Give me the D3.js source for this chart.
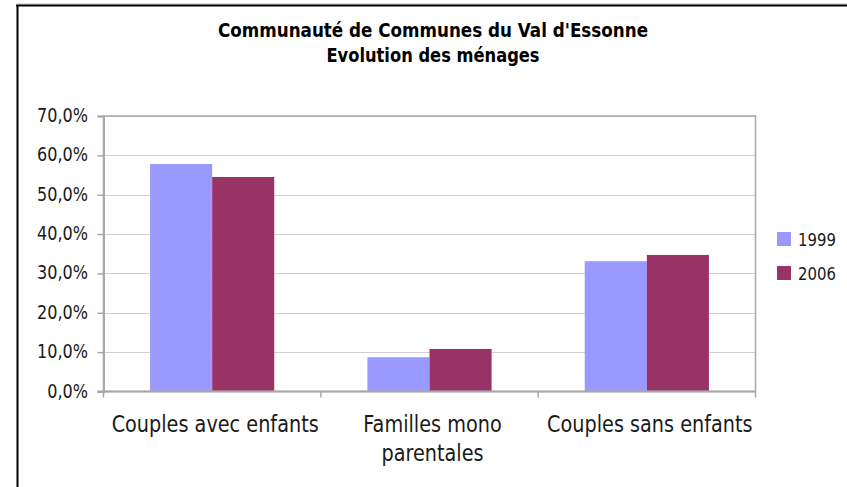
<!DOCTYPE html>
<html><head><meta charset="utf-8">
<script src="https://cdn.jsdelivr.net/npm/d3@7"></script>
<style>body{margin:0;background:#fff}svg{display:block}</style>
</head><body>
<script>
const categories = [["Couples avec enfants"], ["Familles mono", "parentales"], ["Couples sans enfants"]];
const seriesNames = ["1999", "2006"];
const values1999 = [57.8, 8.7, 33.1];
const values2006 = [54.5, 10.8, 34.7];
const yTicks = [0, 10, 20, 30, 40, 50, 60, 70];
const titleLines = ["Communauté de Communes du Val d'Essonne", "Evolution des ménages"];
const colors = ["#9999FF", "#993366"];

(function () {
const W = 847, H = 487;
const svg = d3.select("body").append("svg").attr("width", W).attr("height", H);
const FONT = "'DejaVu Sans', sans-serif";
const K = 1.22; // vertical stretch to mimic the taller original face

function label(parent, txt, x, yb, anchor, opts) {
  const g = parent.append("g").attr("transform", `translate(${x},${yb}) scale(1,${opts.k || K})`);
  const t = g.append("text").attr("x", 0).attr("y", 0).attr("text-anchor", anchor)
    .attr("font-family", FONT).attr("font-size", opts.fs || 14).attr("fill", opts.fill || "#1a1a1a")
    .attr("font-weight", opts.bold ? "bold" : null).text(txt);
  if (opts.width) {
    const w = t.node().getComputedTextLength();
    t.attr("font-size", ((opts.fs || 14) * opts.width / w).toFixed(2));
  }
  return t;
}

// frame
svg.append("line").attr("x1", 17).attr("x2", W).attr("y1", 4).attr("y2", 4).attr("stroke", "#bbb").attr("stroke-width", 1);
svg.append("line").attr("x1", 16).attr("x2", W).attr("y1", 5.5).attr("y2", 5.5).attr("stroke", "#000").attr("stroke-width", 2);
svg.append("line").attr("x1", 17.5).attr("x2", 17.5).attr("y1", 5).attr("y2", H).attr("stroke", "#000").attr("stroke-width", 2);

// title
const tl = [37, 62], tw = [430, 213];
titleLines.forEach((t, i) => label(svg, t, 433, tl[i], "middle", { bold: true, width: tw[i], fill: "#000", k: 1.2 }));

const pl = 103.5, pr = 755.5, pt = 116, pb = 391.5;
const step = (pr - pl) / categories.length;
const barW = step / 3.5; // Excel gap width 150%
const x0 = d3.scaleBand().domain(d3.range(categories.length)).range([pl, pr]);
const y = d3.scaleLinear().domain([0, 70]).range([pb, pt]);

// gridlines
svg.append("g").selectAll("line").data(yTicks.filter(d => d > 0)).join("line")
  .attr("x1", pl).attr("x2", pr).attr("y1", d => Math.round(y(d)) + 0.5).attr("y2", d => Math.round(y(d)) + 0.5)
  .attr("stroke", "#d0d0d0").attr("stroke-width", 1);

// bars
const data = [];
categories.forEach((c, i) => {
  [values1999[i], values2006[i]].forEach((v, j) => data.push({ i, j, v }));
});
svg.append("g").selectAll("rect").data(data).join("rect")
  .attr("x", d => x0(d.i) + x0.bandwidth() / 2 - barW + d.j * barW)
  .attr("width", barW)
  .attr("y", d => y(d.v)).attr("height", d => pb - y(d.v))
  .attr("fill", d => colors[d.j]);

// plot border
svg.append("rect").attr("x", pl).attr("y", pt).attr("width", pr - pl).attr("height", pb - pt)
  .attr("fill", "none").attr("stroke", "#a8a8a8").attr("stroke-width", 1.5);

// y axis
const fmt = d => d3.format(".1f")(d).replace(".", ",") + "%";
const yAxis = d3.axisLeft(y).tickValues(yTicks).tickSize(6).tickFormat("");
const gy = svg.append("g").attr("transform", `translate(${pl},0)`).call(yAxis);
gy.select(".domain").attr("stroke", "#a8a8a8").attr("stroke-width", 2);
gy.selectAll(".tick line").attr("stroke", "#a8a8a8").attr("stroke-width", 1.5);
gy.selectAll(".tick text").remove();
const yl = svg.append("g");
const t70 = label(yl, fmt(70), 88, y(70) + 6, "end", { width: 51 });
const yfs = t70.attr("font-size");
yTicks.filter(d => d !== 70).forEach(d => label(yl, fmt(d), 88, y(d) + 6, "end", { fs: yfs }));

// x axis
const gx = svg.append("g").attr("transform", `translate(0,${pb})`);
gx.append("line").attr("x1", pl - 6).attr("x2", pr).attr("y1", 0).attr("y2", 0).attr("stroke", "#a8a8a8").attr("stroke-width", 2);
gx.selectAll("line.tk").data(d3.range(categories.length + 1)).join("line").attr("class", "tk")
  .attr("x1", i => pl + i * step).attr("x2", i => pl + i * step).attr("y1", 0).attr("y2", 6)
  .attr("stroke", "#a8a8a8").attr("stroke-width", 1.5);

const labels = svg.append("g");
const c0 = label(labels, categories[0][0], x0(0) + x0.bandwidth() / 2 + 3, 432, "middle", { width: 207 });
const catFs = c0.attr("font-size");
categories.forEach((c, i) => {
  c.forEach((line, k) => {
    if (i === 0 && k === 0) return;
    label(labels, line, x0(i) + x0.bandwidth() / 2 + 3, 432 + k * 29, "middle", { fs: catFs });
  });
});

// legend
const lg = svg.append("g");
seriesNames.forEach((n, i) => {
  lg.append("rect").attr("x", 777).attr("y", 232 + i * 34).attr("width", 14).attr("height", 14).attr("fill", colors[i]);
  label(lg, n, 798, 246 + i * 34, "start", { width: 38 });
});
})();
</script>
</body></html>
